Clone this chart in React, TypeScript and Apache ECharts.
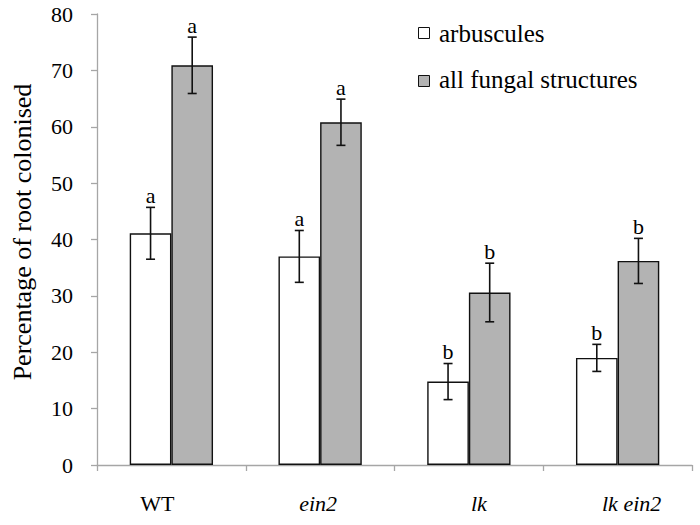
import React, { useEffect, useRef } from "react";
import * as echarts from "echarts";

const categories = ["WT", "ein2", "lk", "lk ein2"];
const categoryItalic = [false, true, true, true];
const seriesNames = ["arbuscules", "all fungal structures"];
const arbuscules = [41.1, 37.0, 14.8, 19.0];
const arbusculesErr = [4.6, 4.6, 3.2, 2.4];
const arbusculesLetters = ["a", "a", "b", "b"];
const allFungal = [70.9, 60.8, 30.6, 36.2];
const allFungalErr = [5.0, 4.1, 5.2, 4.0];
const allFungalLetters = ["a", "a", "b", "b"];
const yTicks = { min: 0, max: 80, interval: 10 };

const FONT = "Liberation Serif";
const BAR_FRACTION = 0.28;
const WHITE = "#ffffff";
const GRAY = "#b3b3b3";
// horizontal nudge of each category label (px), as in the reference layout
const labelNudge = [-14, -2, 10, 14];

function errorSeries(name: string, values: number[], errs: number[], letters: string[], side: number) {
  return {
    name,
    type: "custom",
    z: 10,
    silent: true,
    data: values.map((v, i) => [i, v, errs[i]]),
    renderItem: (params: any, api: any) => {
      const idx = api.value(0);
      const v = api.value(1);
      const e = api.value(2);
      const band = api.size([1, 0])[0];
      const bw = band * BAR_FRACTION;
      const cx = api.coord([idx, 0])[0] + side * bw / 2;
      const yTop = api.coord([idx, v + e])[1];
      const yBot = api.coord([idx, v - e])[1];
      const cap = 4.5;
      const st = { stroke: "#111", lineWidth: 1.6 };
      return {
        type: "group",
        children: [
          { type: "line", shape: { x1: cx, y1: yTop, x2: cx, y2: yBot }, style: st },
          { type: "line", shape: { x1: cx - cap, y1: yTop, x2: cx + cap, y2: yTop }, style: st },
          { type: "line", shape: { x1: cx - cap, y1: yBot, x2: cx + cap, y2: yBot }, style: st },
          {
            type: "text",
            x: cx,
            y: yTop - 1,
            style: {
              text: letters[idx],
              fontSize: 22,
              fontFamily: FONT,
              fill: "#000",
              align: "center",
              verticalAlign: "bottom",
            },
          },
        ],
      };
    },
  };
}

function legendItem(label: string, fill: string, y: number, textY: number) {
  return {
    type: "group",
    children: [
      {
        type: "rect",
        shape: { x: 418.5, y, width: 11, height: 11 },
        style: { fill, stroke: "#111", lineWidth: 1 },
      },
      {
        type: "text",
        x: 439,
        y: textY,
        style: {
          text: label,
          fontFamily: FONT,
          fontSize: 25,
          fill: "#000",
          align: "left",
          verticalAlign: "middle",
        },
      },
    ],
  };
}

function buildOption() {
  return {
    animation: false,
    backgroundColor: "#fff",
    textStyle: { fontFamily: FONT, color: "#000" },
    grid: { left: 97, right: 8, top: 14, bottom: 60 },
    xAxis: {
      type: "category",
      data: categories.map((c, i) => {
        const n = labelNudge[i];
        return {
          value: c,
          textStyle: {
            fontStyle: categoryItalic[i] ? "italic" : "normal",
            fontFamily: FONT,
            fontSize: 22,
            color: "#000",
            padding: [0, n < 0 ? -2 * n : 0, 0, n > 0 ? 2 * n : 0],
          },
        };
      }),
      axisLine: { lineStyle: { color: "#a6a6a6", width: 1.3 } },
      axisTick: { show: true, length: 6, lineStyle: { color: "#a6a6a6", width: 1.3 } },
      axisLabel: { margin: 27, fontFamily: FONT, fontSize: 22, color: "#000" },
    },
    yAxis: {
      type: "value",
      min: yTicks.min,
      max: yTicks.max,
      interval: yTicks.interval,
      splitLine: { show: false },
      axisLine: { show: true, lineStyle: { color: "#a6a6a6", width: 1.3 } },
      axisTick: { show: true, length: 6, lineStyle: { color: "#a6a6a6", width: 1.3 } },
      axisLabel: { margin: 24, fontFamily: FONT, fontSize: 22, color: "#000" },
    },
    graphic: [
      {
        type: "text",
        x: 22,
        y: 232,
        rotation: Math.PI / 2,
        style: {
          text: "Percentage of root colonised",
          fontFamily: FONT,
          fontSize: 26,
          fill: "#000",
          align: "center",
          verticalAlign: "middle",
        },
      },
      legendItem(seriesNames[0], WHITE, 27.5, 33),
      legendItem(seriesNames[1], GRAY, 75.5, 79.5),
    ],
    series: [
      {
        name: seriesNames[0],
        type: "bar",
        data: arbuscules,
        barWidth: "28%",
        barGap: "0%",
        itemStyle: { color: WHITE, borderColor: "#111", borderWidth: 1.4 },
      },
      {
        name: seriesNames[1],
        type: "bar",
        data: allFungal,
        barWidth: "28%",
        barGap: "0%",
        itemStyle: { color: GRAY, borderColor: "#111", borderWidth: 1.4 },
      },
      errorSeries("err-arb", arbuscules, arbusculesErr, arbusculesLetters, -1),
      errorSeries("err-all", allFungal, allFungalErr, allFungalLetters, 1),
    ],
  };
}

export default function App() {
  const ref = useRef<HTMLDivElement>(null);
  useEffect(() => {
    if (!ref.current) return;
    const chart = echarts.init(ref.current, null, { renderer: "svg" });
    chart.setOption(buildOption() as any);
    let alive = true;
    const fonts: any = (document as any).fonts;
    if (fonts && fonts.load) {
      Promise.all([fonts.load("22px 'Liberation Serif'"), fonts.load("italic 22px 'Liberation Serif'")])
        .then(() => {
          if (alive) chart.setOption(buildOption() as any, true);
        })
        .catch(() => {});
    }
    return () => {
      alive = false;
      chart.dispose();
    };
  }, []);
  return <div ref={ref} style={{ width: 700, height: 525, position: "absolute", left: 0, top: 0 }} />;
}
